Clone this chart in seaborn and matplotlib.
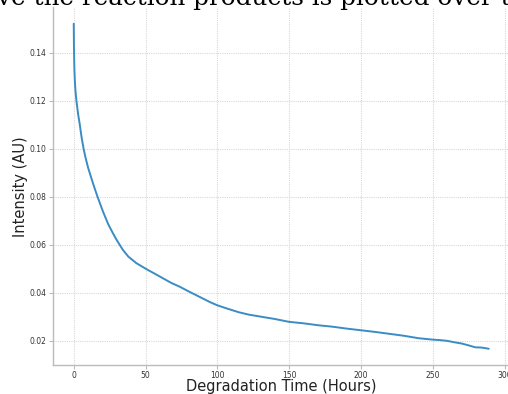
import numpy as np
import pandas as pd
import matplotlib
matplotlib.use("Agg")
import matplotlib.pyplot as plt
import seaborn as sns

hours = [0, 0.15, 0.4, 0.7, 1.2, 1.85, 3, 4.2, 5.5, 7, 8.3, 10, 13.4, 16.5, 20.4, 24,
         27.3, 30, 34.2, 38, 43.5, 50.5, 56, 62, 68, 73.6, 80, 85, 90, 95, 100, 107,
         115, 122, 130, 140, 150, 160, 170, 180, 190, 200, 210, 220, 230, 240, 250,
         255, 260, 265, 270, 275, 279.6, 284, 289]
intensity = [0.152, 0.142, 0.134, 0.129, 0.124, 0.120, 0.1145, 0.110, 0.1045, 0.0995,
             0.0960, 0.0920, 0.0855, 0.0800, 0.0737, 0.0685, 0.0647, 0.0618, 0.0578,
             0.0550, 0.0523, 0.0498, 0.0480, 0.0460, 0.0440, 0.0425, 0.0405, 0.0390,
             0.0375, 0.0360, 0.0347, 0.0333, 0.0318, 0.0308, 0.0300, 0.0290, 0.0278,
             0.0272, 0.0264, 0.0258, 0.0250, 0.0243, 0.0236, 0.0228, 0.0220, 0.0210,
             0.0204, 0.0202, 0.0199, 0.0193, 0.0188, 0.0180, 0.0172, 0.0171, 0.0166]
x_ticks = [0, 50, 100, 150, 200, 250, 300]
y_ticks = [0.02, 0.04, 0.06, 0.08, 0.10, 0.12, 0.14]
title_fragment = "ve the reaction products is plotted over th"

sns.set_theme(style="white")
plt.rcParams['font.family'] = ['DejaVu Sans']

df = pd.DataFrame({"Degradation Time (Hours)": hours, "Intensity (AU)": intensity})

fig = plt.figure(figsize=(5.08, 3.94), dpi=100)
ax = fig.add_axes([53/508, (394-365)/394, (509.5-53)/508, (365-7.5)/394])
sns.lineplot(data=df, x="Degradation Time (Hours)", y="Intensity (AU)", ax=ax,
             color="#3a8cc4", linewidth=1.4)

ax.set_xticks(x_ticks)
ax.set_yticks(y_ticks)
ax.set_xticklabels([str(t) for t in x_ticks])
ax.set_yticklabels([f"{t:.2f}" for t in y_ticks])
ax.grid(True, color="#d8d8d8", linestyle=(0, (1, 1)), linewidth=0.8)
ax.set_axisbelow(True)
for s in ["top", "right"]:
    ax.spines[s].set_visible(False)
for s in ["left", "bottom"]:
    ax.spines[s].set_color("#bbbbbb")
    ax.spines[s].set_linewidth(1.0)
ax.tick_params(axis="both", direction="out", length=3, width=0.8, color="#bbbbbb",
               labelsize=5.5, labelcolor="#333333", left=True, bottom=True)
ax.tick_params(axis="x", pad=1)
ax.tick_params(axis="y", pad=2)
ax.set_xlabel("Degradation Time (Hours)", fontsize=10.5, color="#222222", labelpad=-0.5)
ax.set_ylabel("Intensity (AU)", fontsize=10.5, color="#222222", labelpad=1)

fig.text(-3/508, (394-5)/394, title_fragment, family="DejaVu Serif", fontsize=17.7,
         color="black", ha="left", va="baseline")

fig.savefig("out.png", dpi=100)
